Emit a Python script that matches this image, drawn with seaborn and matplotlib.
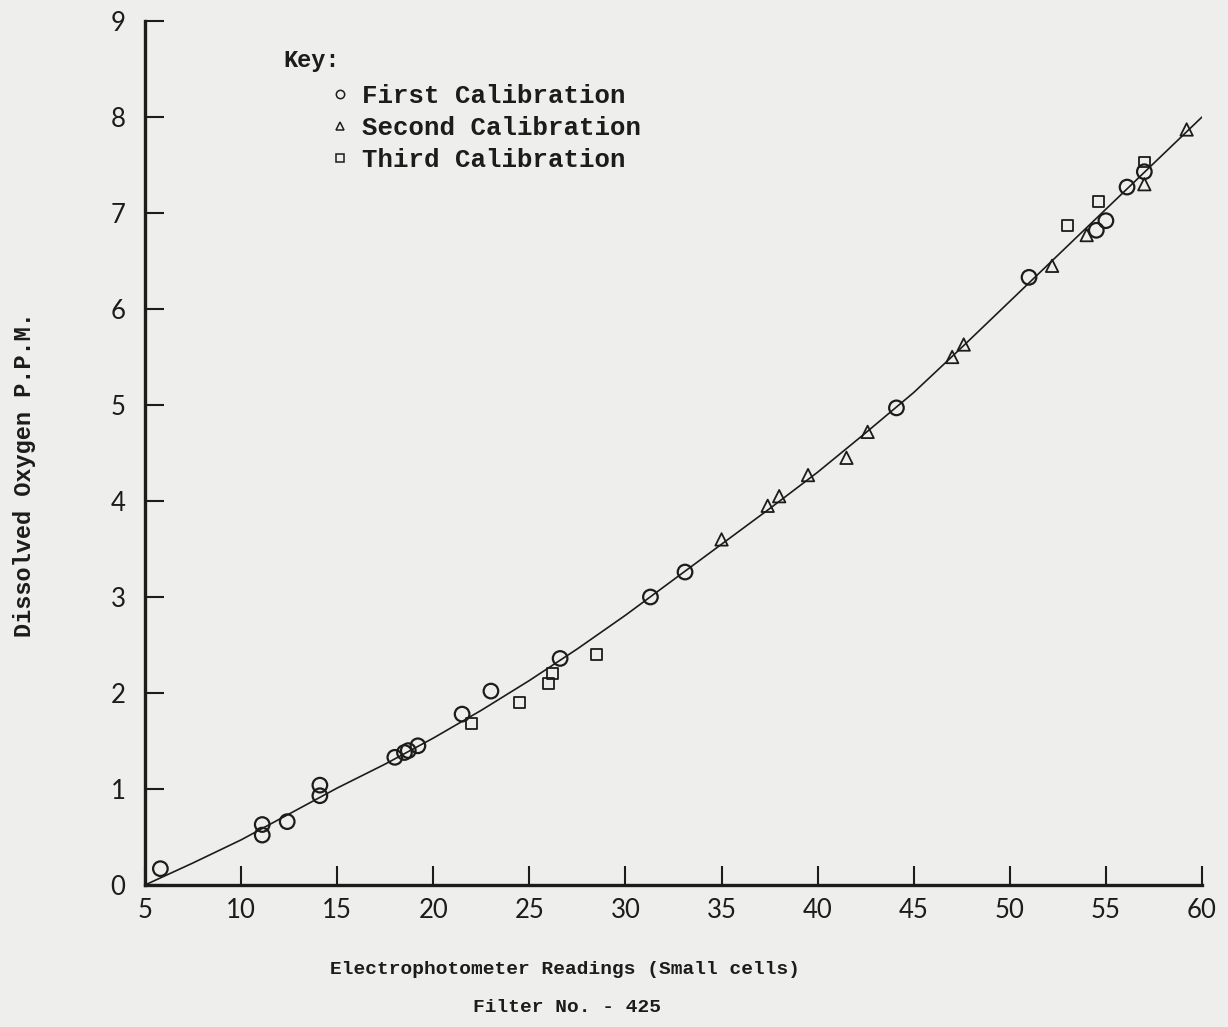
import matplotlib
matplotlib.use("Agg")
import matplotlib.pyplot as plt
from matplotlib.lines import Line2D
import seaborn as sns

# readings
first_x = [5.8, 11.1, 11.1, 12.4, 14.1, 14.1, 18.0, 18.5, 18.7, 19.2, 21.5, 23.0,
           26.6, 31.3, 33.1, 44.1, 51.0, 54.5, 55.0, 56.1, 57.0]
first_y = [0.17, 0.63, 0.52, 0.66, 1.04, 0.93, 1.33, 1.38, 1.40, 1.45, 1.78, 2.02,
           2.36, 3.00, 3.26, 4.97, 6.33, 6.82, 6.92, 7.27, 7.43]

second_x = [35.0, 37.4, 38.0, 39.5, 41.5, 42.6, 47.0, 47.6, 52.2, 54.0, 57.0, 59.2]
second_y = [3.60, 3.95, 4.05, 4.27, 4.45, 4.72, 5.50, 5.63, 6.45, 6.77, 7.30, 7.87]

third_x = [22.0, 24.5, 26.0, 26.2, 28.5, 53.0, 54.6, 57.0]
third_y = [1.68, 1.90, 2.10, 2.20, 2.40, 6.87, 7.12, 7.53]

# hand drawn calibration curve, read at intervals
curve_x = [5, 7.5, 10, 12.5, 15, 17.5, 20, 22.5, 25, 27.5, 30, 32.5, 35, 37.5,
           40, 42.5, 45, 47.5, 50, 52.5, 55, 57.5, 60]
curve_y = [0.0, 0.23, 0.47, 0.74, 1.01, 1.26, 1.53, 1.82, 2.13, 2.46, 2.81, 3.18,
           3.55, 3.92, 4.30, 4.71, 5.13, 5.60, 6.08, 6.56, 7.04, 7.52, 8.0]

series_names = ["First Calibration", "Second Calibration", "Third Calibration"]
x_ticks = [5, 10, 15, 20, 25, 30, 35, 40, 45, 50, 55, 60]
y_ticks = [0, 1, 2, 3, 4, 5, 6, 7, 8, 9]

paper = "#eeeeec"
ink = "#1c1c1c"
mono = ["Liberation Mono", "DejaVu Sans Mono"]

sns.set_style("ticks")

fig = plt.figure(figsize=(12.28, 10.27), dpi=100, facecolor=paper)
ax = fig.add_axes([145 / 1228, 1 - 885 / 1027, (1202 - 145) / 1228, (885 - 21) / 1027])
ax.set_facecolor(paper)

sns.lineplot(x=curve_x, y=curve_y, color=ink, linewidth=1.2, ax=ax)
sns.scatterplot(x=first_x, y=first_y, marker="o", s=110, facecolors="none",
                edgecolor=ink, linewidth=1.6, ax=ax, zorder=3)
sns.scatterplot(x=second_x, y=second_y, marker="^", s=80, facecolors="none",
                edgecolor=ink, linewidth=1.3, ax=ax, zorder=3)
sns.scatterplot(x=third_x, y=third_y, marker="s", s=60, facecolors="none",
                edgecolor=ink, linewidth=1.3, ax=ax, zorder=3)

ax.set_xlim(5, 60)
ax.set_ylim(0, 9)
ax.set_xticks(x_ticks)
ax.set_yticks(y_ticks)
sns.despine(ax=ax)
for side in ["left", "bottom"]:
    ax.spines[side].set_linewidth(2.4)
    ax.spines[side].set_color(ink)
ax.tick_params(axis="both", direction="in", length=14, width=1.5, colors=ink,
               labelsize=18.5)
ax.tick_params(axis="y", pad=14)
ax.tick_params(axis="x", pad=9)
for lab in ax.get_xticklabels() + ax.get_yticklabels():
    lab.set_family("Lato")
    lab.set_color(ink)

ax.set_xlabel("")
ax.set_ylabel("")
fig.text(25 / 1228, 1 - 475 / 1027, "Dissolved Oxygen P.P.M.", rotation=90,
         ha="center", va="center", fontsize=17, fontweight="bold",
         family=mono, color=ink)
fig.text(565 / 1228, 1 - 969 / 1027, "Electrophotometer Readings (Small cells)",
         ha="center", va="center", fontsize=14, fontweight="bold",
         family=mono, color=ink)
fig.text(567 / 1228, 1 - 1008 / 1027, "Filter No. - 425",
         ha="center", va="center", fontsize=14, fontweight="bold",
         family=mono, color=ink)

# key
fig.text(283 / 1228, 1 - 60 / 1027, "Key:", ha="left", va="center",
         fontsize=17, fontweight="bold", family=mono, color=ink)
handles = [Line2D([], [], linestyle="none", marker=m, markersize=6,
                  markerfacecolor="none", markeredgecolor=ink, markeredgewidth=1.1)
           for m in ["o", "^", "s"]]
leg = ax.legend(handles, series_names, loc="upper left",
                bbox_to_anchor=(318 / 1228, 1 - 71 / 1027),
                bbox_transform=fig.transFigure, frameon=False, borderpad=0,
                handlelength=0.7, handletextpad=0.5, labelspacing=0.32,
                prop={"family": mono, "weight": "bold", "size": 18.5})
for t in leg.get_texts():
    t.set_color(ink)

fig.savefig("out.png", dpi=100, facecolor=paper)
